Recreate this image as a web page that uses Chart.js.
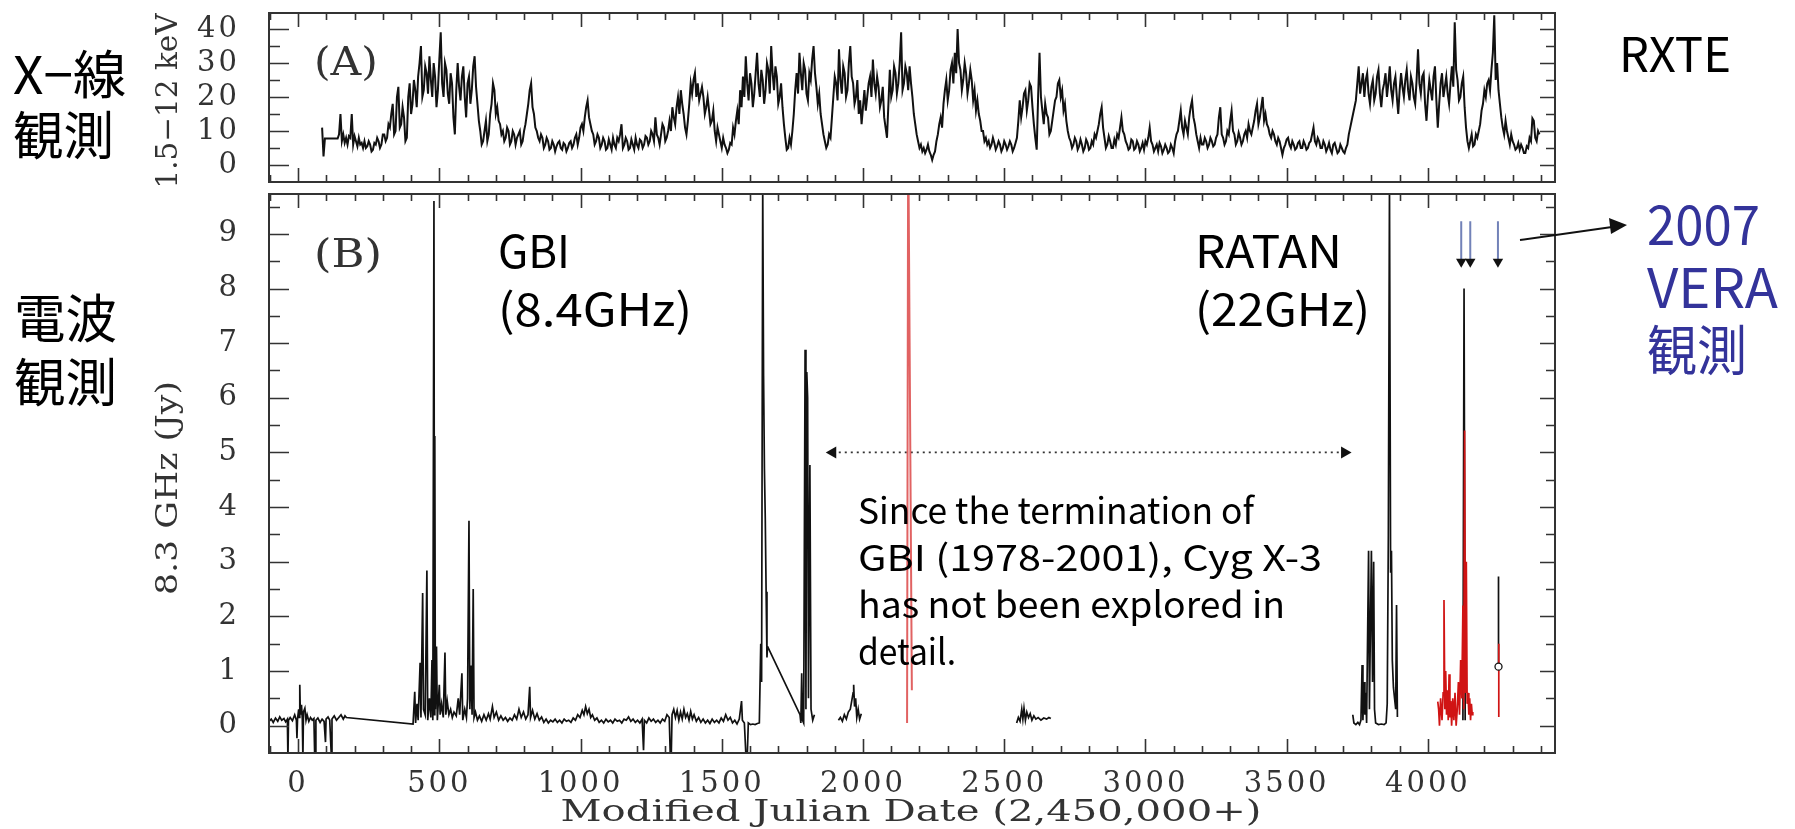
<!DOCTYPE html>
<html>
<head>
<meta charset="utf-8">
<title>Cyg X-3 light curves</title>
<script src="https://cdn.jsdelivr.net/npm/chart.js@4.4.1/dist/chart.umd.min.js"></script>
<style>
  html, body { margin: 0; padding: 0; background: #fff; }
  #wrap { position: relative; width: 1795px; height: 829px; overflow: hidden; background: #fff; }
  #wrap canvas { position: absolute; left: 0; }
  #xray { top: 0; }
  #radio { top: 184px; }
  #notes { position: absolute; left: 0; top: 0; pointer-events: none; }
  .jp { font-family: 'Noto Sans CJK JP', sans-serif; }
  .serif { font-family: 'DejaVu Serif', serif; fill: #333; }
</style>
</head>
<body>
<div id="wrap">
  <canvas id="xray" width="1795" height="186"></canvas>
  <canvas id="radio" width="1795" height="645"></canvas>
  <svg id="notes" width="1795" height="829">
    <!-- left side labels -->
    <text class="jp" x="13" y="94" font-size="52" textLength="113" lengthAdjust="spacingAndGlyphs">X−線</text>
    <text class="jp" x="13" y="155" font-size="52" textLength="101" lengthAdjust="spacingAndGlyphs">観測</text>
    <text class="jp" x="14" y="338" font-size="52" textLength="103" lengthAdjust="spacingAndGlyphs">電波</text>
    <text class="jp" x="14" y="402" font-size="52" textLength="103" lengthAdjust="spacingAndGlyphs">観測</text>

    <!-- axis titles -->
    <text class="serif" font-size="29" text-anchor="middle" textLength="175" lengthAdjust="spacingAndGlyphs" transform="translate(177,101) rotate(-90)">1.5−12 keV</text>
    <text class="serif" font-size="29" text-anchor="middle" textLength="214" lengthAdjust="spacingAndGlyphs" transform="translate(177,488) rotate(-90)">8.3 GHz (Jy)</text>
    <text class="serif" font-size="29" x="911" y="821" text-anchor="middle" textLength="701" lengthAdjust="spacingAndGlyphs">Modified Julian Date (2,450,000+)</text>

    <!-- panel tags -->
    <text class="serif" font-size="40" x="314" y="75" textLength="64" lengthAdjust="spacingAndGlyphs">(A)</text>
    <text class="serif" font-size="40" x="314" y="267" textLength="68" lengthAdjust="spacingAndGlyphs">(B)</text>

    <!-- instrument names -->
    <text class="jp" x="1619" y="72" font-size="48" textLength="112" lengthAdjust="spacingAndGlyphs">RXTE</text>
    <text class="jp" x="498" y="268" font-size="45" textLength="72" lengthAdjust="spacingAndGlyphs">GBI</text>
    <text class="jp" x="498" y="326" font-size="45" textLength="194" lengthAdjust="spacingAndGlyphs">(8.4GHz)</text>
    <text class="jp" x="1195" y="268" font-size="45" textLength="147" lengthAdjust="spacingAndGlyphs">RATAN</text>
    <text class="jp" x="1195" y="326" font-size="45" textLength="175" lengthAdjust="spacingAndGlyphs">(22GHz)</text>

    <!-- note -->
    <text class="jp" x="858" y="524" font-size="36" textLength="396" lengthAdjust="spacingAndGlyphs">Since the termination of</text>
    <text class="jp" x="858" y="571" font-size="36" textLength="464" lengthAdjust="spacingAndGlyphs">GBI (1978-2001), Cyg X-3</text>
    <text class="jp" x="858" y="618" font-size="36" textLength="427" lengthAdjust="spacingAndGlyphs">has not been explored in</text>
    <text class="jp" x="858" y="665" font-size="36" textLength="98" lengthAdjust="spacingAndGlyphs">detail.</text>

    <!-- VERA -->
    <text class="jp" x="1647" y="245" font-size="54" fill="#33339a" textLength="113" lengthAdjust="spacingAndGlyphs">2007</text>
    <text class="jp" x="1647" y="308" font-size="54" fill="#33339a" textLength="131" lengthAdjust="spacingAndGlyphs">VERA</text>
    <text class="jp" x="1647" y="371" font-size="54" fill="#33339a" textLength="100" lengthAdjust="spacingAndGlyphs">観測</text>
    <line x1="1520" y1="240" x2="1612" y2="227" stroke="#111" stroke-width="2"/>
    <polygon points="1627,225 1609,218 1611,234" fill="#111"/>
  </svg>
</div>

<script>
// RXTE/ASM 1.5-12 keV count rate, one value every 5 days from MJD 50085
const xrayStart = 85;
const xrayStep = 5;
const xrayFlux = [
  11, 2.5, 7.8, 7.8, 7.8, 7.8, 7.8, 7.8, 7.8, 7.8, 7.8, 7.8, 9, 15, 7, 9, 6.5, 8, 6, 8.5,
  8, 15, 6, 8.5, 7, 5.5, 8, 6, 6.5, 5, 7, 5, 5.5, 7, 6, 4, 4.5, 6.5, 6, 8,
  7, 5, 6, 9, 9, 7, 8, 12, 11, 15, 18, 9, 10, 20, 23, 11, 12, 17, 14, 7,
  8, 20, 24, 15, 18, 25, 22, 17, 26, 30, 35, 20, 22, 29, 27, 21, 32, 25, 20, 30,
  26, 17, 22, 31, 39, 24, 20, 30, 28, 21, 18, 27, 24, 14, 9, 22, 30, 23, 19, 26,
  29, 20, 14, 24, 26, 18, 22, 29, 32, 23, 18, 13, 10, 6, 7, 10, 13, 7, 9, 15,
  18, 24, 22, 15, 17, 13, 12, 9, 10, 7, 8, 11, 10, 6, 7, 10, 9, 6, 8, 9,
  10, 6, 7, 10, 12, 15, 18, 22, 24, 17, 15, 11, 10, 8, 7, 9, 8, 5, 6, 8,
  7, 4.5, 5, 7, 6, 4, 5.5, 6.5, 7, 5, 4.5, 6.5, 6, 4, 5, 6.5, 7, 5, 6, 8,
  9, 6, 8, 11, 12, 10, 14, 17, 19, 14, 12, 10, 9, 6, 7, 9, 8, 5, 6, 8,
  7, 4.5, 5, 7.5, 6, 4.5, 8, 6, 5, 8, 7, 9, 12, 5, 6, 8, 7, 4.5, 5, 7.5,
  6, 4.5, 8, 6, 5, 7.5, 7, 5, 6, 8.5, 8, 6, 7, 10, 9, 7, 14, 9, 8, 6,
  9, 12, 11, 7, 8, 10, 13, 10, 17, 14, 12, 17, 20, 15, 22, 18, 15, 11, 9, 13,
  18, 24, 21, 25, 27, 20, 24, 19, 21, 23, 20, 15, 17, 20, 16, 12, 13, 16, 10, 7,
  11, 9, 7, 5, 8, 6, 5, 3.5, 4.5, 6.5, 6, 11, 9, 13, 16, 12, 22, 17, 26, 20,
  32, 24, 19, 27, 24, 17, 21, 27, 33, 24, 20, 28, 25, 18, 22, 30, 28, 21, 35, 27,
  22, 29, 26, 18, 20, 24, 17, 12, 8, 4.5, 5, 8, 6, 10, 15, 22, 27, 21, 33, 27,
  22, 30, 28, 21, 19, 27, 25, 31, 35, 27, 23, 18, 21, 15, 12, 9, 7, 5, 6, 9,
  8, 14, 20, 26, 24, 19, 34, 25, 21, 29, 27, 20, 22, 30, 35, 26, 24, 18, 20, 25,
  15, 19, 12, 17, 22, 16, 20, 24, 26, 20, 31, 24, 21, 26, 23, 17, 19, 23, 14, 11,
  8, 18, 28, 20, 22, 29, 27, 21, 24, 30, 39, 22, 24, 29, 27, 22, 29, 24, 20, 15,
  12, 9, 7, 5, 6, 4, 5, 3.5, 4.5, 6, 4, 3, 1.5, 3, 4, 7, 9, 12, 14, 11,
  18, 22, 25, 19, 22, 28, 30, 24, 33, 27, 40, 30, 28, 22, 25, 30, 27, 21, 24, 28,
  25, 19, 22, 16, 19, 15, 13, 10, 10, 7, 8, 6, 7, 5, 6, 8, 6.5, 4.5, 5.5, 7,
  6, 4, 5, 7, 6, 4.5, 5.5, 7, 6, 4, 5, 6.5, 8, 13, 19, 14, 17, 21, 22, 16,
  19, 24, 23, 17, 12, 8, 4.5, 20, 33, 20, 16, 12, 18, 15, 14, 9, 10, 13, 16, 19,
  20, 24, 25, 20, 22, 16, 18, 13, 10, 8, 7, 5, 6, 8, 7, 4.5, 5.5, 7.5, 6, 4,
  5, 7.5, 6.5, 4.5, 5, 7, 6, 9, 8, 10, 12, 15, 17, 11, 8, 5, 6, 8.5, 7, 5,
  5, 7.5, 6, 9, 8, 11, 14, 10, 9, 7, 6, 4.5, 5, 7.5, 7, 4.5, 5, 7, 6, 4,
  5, 6.5, 4.5, 7, 6, 8, 11, 7, 6, 4, 5, 6, 4, 6.5, 5.5, 3.5, 4.5, 6, 5, 3.5,
  4, 6, 5, 3.5, 7, 9, 10, 13, 16, 11, 9, 13, 11, 9, 14, 17, 19, 14, 12, 9,
  7, 5, 8, 6, 6, 8, 7, 5, 6, 8, 7, 5.5, 6, 8, 9, 14, 17, 9, 8, 6,
  7, 10, 9, 13, 16, 10, 9, 6, 7, 9.5, 8, 6, 7, 9, 10, 8, 12, 10, 9, 11,
  13, 16, 18, 12, 14, 17, 20, 13, 15, 12, 11, 9, 8, 10, 9, 7, 6, 8, 7, 5,
  3, 5, 6, 7.5, 8, 6, 5, 7, 6, 4.5, 5, 6.5, 7, 5, 5, 7, 6, 4.5, 5, 6.5,
  7, 9, 11, 7, 6, 8, 7, 5, 5, 7, 6, 4, 5, 6.5, 4.5, 3.5, 6, 6.5, 5, 3.5,
  4, 6, 5, 4, 3.5, 5, 6, 9, 11, 13, 15, 17, 19, 24, 29, 21, 24, 27, 20, 25,
  27, 21, 18, 23, 25, 19, 21, 26, 28, 21, 17, 22, 24, 27, 20, 24, 29, 22, 19, 24,
  26, 20, 15, 22, 27, 23, 20, 25, 28, 22, 19, 26, 24, 20, 18, 25, 34, 24, 21, 26,
  27, 18, 13, 20, 25, 22, 19, 26, 29, 19, 11, 18, 24, 27, 20, 23, 26, 21, 18, 24,
  29, 23, 42, 28, 25, 19, 20, 24, 26, 17, 11, 7, 5, 7, 9, 5.5, 6, 9, 8, 10,
  12, 16, 18, 22, 20, 24, 25, 22, 28, 33, 44, 25, 30, 22, 18, 14, 11, 9, 13, 10,
  8, 6, 9, 7, 6, 4.5, 5, 6.5, 4.5, 6, 5, 3.5, 3.5, 5.5, 5, 8, 7, 13.7, 13, 8,
  7, 10, 9
];

// GBI 8.3 GHz flux, [MJD, Jy]; first run is continuous (gaps bridged by straight lines)
const gbiRunA = [
  [-103,0.08],[-95,0.12],[-88,0.06],[-80,0.14],[-72,0.08],[-65,0.16],[-58,0.1],[-50,0.13],[-44,0.07],[-38,0.12],
  [-36,-0.6],[-34,0.1],[-28,0.15],[-20,0.09],[-12,0.2],[-6,0.1],[-4,-0.23],[-2,0.12],[2,0.3],[4,0.15],
  [6,0.75],[8,0.2],[12,0.38],[15,0.12],[17,-0.6],[19,0.25],[24,0.32],[28,0.1],[32,0.2],[38,0.08],
  [44,0.15],[50,0.1],[56,0.13],[59,-0.6],[61,-0.6],[63,0.1],[70,0.14],[78,0.06],[85,0.12],[92,0.08],
  [97,-0.3],[99,0.12],[106,0.16],[112,0.1],[118,-0.6],[120,0.12],[128,0.18],[136,0.1],[144,0.15],[152,0.2],
  [160,0.12],[166,0.18],[171,0.15],
  [407,0.03],[413,0.62],[416,0.05],[421,0.4],[425,0.1],[432,1.15],[435,0.15],[441,2.43],[444,0.3],[450,0.2],
  [456,2.84],[459,0.1],[465,0.5],[470,0.15],[474,1.2],[477,0.1],[481,9.6],[483,0.2],[484,5.3],[486,0.3],
  [490,1.45],[493,0.1],[500,0.75],[503,0.2],[508,0.4],[514,0.15],[520,1.34],[523,0.2],[528,0.45],[534,0.2],
  [540,0.3],[546,0.15],[552,0.25],[560,0.18],[567,0.5],[572,0.2],[580,0.96],[583,0.1],[590,0.3],[596,0.15],
  [600,0.5],[605,3.75],[608,0.3],[612,1.1],[616,0.2],[620,2.5],[623,0.15],[628,0.25],[635,0.1],[642,0.18],
  [650,0.08],[658,0.2],[666,0.1],[674,0.22],[680,0.12],[688,0.35],[694,0.15],[702,0.25],[710,0.1],[718,0.18],
  [726,0.1],[734,0.15],[742,0.08],[750,0.14],[758,0.1],[766,0.2],[774,0.12],[782,0.3],[790,0.15],[798,0.25],
  [806,0.12],[814,0.2],[820,0.71],[823,0.15],[830,0.28],[838,0.12],[846,0.22],[854,0.1],[862,0.16],[870,0.06],
  [878,0.12],[886,0.05],[894,0.1],[902,0.07],[910,0.12],[918,0.06],[926,0.1],[934,0.05],[942,0.12],[950,0.08],
  [958,0.1],[966,0.06],[974,0.14],[982,0.1],[990,0.2],[998,0.15],[1006,0.28],[1012,0.2],[1018,0.35],[1024,0.22],
  [1030,0.3],[1036,0.15],[1042,0.2],[1050,0.1],[1058,0.14],[1066,0.06],[1074,0.1],[1082,0.05],[1090,0.12],[1098,0.07],
  [1106,0.1],[1114,0.05],[1122,0.12],[1130,0.08],[1138,0.1],[1146,0.05],[1154,0.12],[1162,0.1],[1170,0.16],[1178,0.08],
  [1186,0.12],[1194,0.06],[1202,0.1],[1210,0.05],[1218,0.12],[1223,-0.45],[1226,0.1],[1234,0.05],[1242,0.14],[1250,0.08],
  [1258,0.12],[1266,0.06],[1274,0.1],[1282,0.05],[1290,0.12],[1298,0.08],[1306,0.2],[1314,0.15],[1318,-0.6],[1321,-0.6],
  [1324,0.2],[1330,0.3],[1336,0.15],[1342,0.28],[1348,0.1],[1354,0.25],[1360,0.12],[1366,0.3],[1372,0.15],[1378,0.22],
  [1384,0.1],[1390,0.26],[1396,0.12],[1402,0.2],[1410,0.08],[1418,0.15],[1426,0.06],[1434,0.12],[1442,0.05],[1450,0.1],
  [1458,0.04],[1466,0.12],[1474,0.06],[1482,0.1],[1490,0.05],[1498,0.14],[1506,0.08],[1514,0.2],[1522,0.1],[1530,0.15],
  [1538,0.05],[1546,0.1],[1554,0.03],[1562,0.12],[1570,0.45],[1573,0.1],[1580,0.05],[1586,-0.6],[1590,-0.6],[1594,0.05],
  [1602,0.02],[1610,0.03],[1618,0.02],[1626,0.04],[1633,0.05],[1638,1.5],[1641,0.8],[1645,9.9],[1648,6.4],[1651,4.7],
  [1654,3.8],[1657,2.45],[1660,1.25],[1662,1.45],
  [1777,0.2],[1780,0.05],[1783,0.96],[1786,0.1],[1790,0.05],[1795,6.88],[1798,0.3],[1801,6.47],[1804,6.0],[1807,0.5],
  [1812,4.77],[1816,0.3],[1822,0.1],[1828,0.2]
];
const gbiRunB = [
  [1913,0.1],[1920,0.15],[1927,0.08],[1934,0.2],[1941,0.12],[1948,0.25],[1955,0.3],[1960,0.45],[1965,0.6],[1967,0.75],
  [1970,0.35],[1974,0.5],[1978,0.15],[1983,0.3],[1988,0.12],[1994,0.22]
];
const gbiRunC = [
  [2544,0.05],[2550,0.15],[2556,0.08],[2562,0.3],[2566,0.12],[2570,0.32],[2575,0.1],[2580,0.25],[2586,0.15],[2592,0.22],
  [2598,0.1],[2605,0.18],[2612,0.12],[2620,0.15],[2630,0.1],[2640,0.14],[2650,0.12],[2658,0.15],[2665,0.13]
];
// RATAN 22 GHz
const ratanBlack = [
  [3734,0.2],[3738,0.05],[3745,0.02],[3752,0.06],[3758,0.02],[3763,0.1],[3767,1.11],[3770,0.1],[3774,0.8],[3777,0.2],
  [3780,0.6],[3783,0.05],[3790,3.2],[3793,0.3],[3797,2.0],[3800,3.2],[3804,0.8],[3808,3.0],[3811,0.3],[3815,0.05],
  [3825,0.02],[3835,0.03],[3845,0.02],[3852,0.05],[3856,0.4],[3860,3.5],[3864,9.9],[3868,2.8],[3871,3.2],[3874,1.2],
  [3878,0.7],[3882,0.5],[3886,0.3],[3889,2.21],[3892,0.16]
];
const ratanFlare2001 = [[2156,0.05],[2160,11],[2173,0.65]];
const ratanRed2007 = [
  [4035,0.44],[4038,0.3],[4041,0.0],[4045,0.5],[4050,0.1],[4054,0.6],[4057,2.3],[4060,0.3],[4063,1.0],[4066,0.2],
  [4069,0.65],[4072,0.1],[4075,0.94],[4078,0.15],[4081,0.45],[4084,0.0],[4088,0.5],[4092,0.1],[4096,0.6],[4100,0.0],
  [4104,0.3],[4108,0.8],[4112,0.2],[4116,1.2],[4120,0.5],[4124,2.2],[4127,0.3],[4130,5.4],[4133,0.6],[4136,3.0],
  [4139,0.4],[4142,0.6],[4145,0.2],[4148,0.5],[4151,0.1],[4154,0.4],[4157,0.2],[4159,0.25]
];
const ratanBlack2007 = [[4124,0.1],[4128,8.0],[4132,0.1]];
// single point with error bar near MJD 54250
const errUpper = [[4250,2.73],[4250,1.08]];
const errLower = [[4251,1.5],[4251,0.16]];
const errPoint = [[4250,1.08]];
// VERA 2007 epochs (arrows) and the GBI-gap marker
const veraEpochs = [4118, 4150, 4248];
const veraArrowTop = 9.23;
const veraArrowTip = 8.49;
const gapArrow = [[1893,5],[3705,5]];

// tick steps
const xLabelStep = 500;
const xMinorStep = 100;
const xrayMajor = 10, xrayMinor = 5;
const radioMajor = 1, radioMinor = 0.5;

const INK = '#111';
const AXIS = '#333';
const RED = '#d01414';

// inward ticks on all four sides plus the frame
const frameTicks = {
  id: 'frameTicks',
  beforeDraw(chart) {
    chart.ctx.letterSpacing = '3px';
  },
  afterDatasetsDraw(chart, args, opts) {
    const { ctx, chartArea: a, scales: { x, y } } = chart;
    ctx.save();
    ctx.strokeStyle = AXIS;
    ctx.lineWidth = 1.6;
    ctx.beginPath();
    x.ticks.forEach(t => {
      const px = Math.round(x.getPixelForValue(t.value)) + 0.5;
      if (px <= a.left + 1 || px >= a.right - 1) return;
      const len = t.value % xLabelStep === 0 ? 14 : 7;
      ctx.moveTo(px, a.top); ctx.lineTo(px, a.top + len);
      ctx.moveTo(px, a.bottom); ctx.lineTo(px, a.bottom - len);
    });
    y.ticks.forEach(t => {
      const py = Math.round(y.getPixelForValue(t.value)) + 0.5;
      if (py <= a.top + 1 || py >= a.bottom - 1) return;
      const major = Math.abs(t.value / opts.major - Math.round(t.value / opts.major)) < 1e-6;
      const l = major ? 20 : 11;
      const r = major ? 15 : 9;
      ctx.moveTo(a.left, py); ctx.lineTo(a.left + l, py);
      ctx.moveTo(a.right, py); ctx.lineTo(a.right - r, py);
    });
    ctx.stroke();
    ctx.lineWidth = 2;
    ctx.strokeRect(a.left, a.top, a.right - a.left, a.bottom - a.top);
    ctx.restore();
  }
};

function line(data, color, width, extra) {
  return Object.assign({
    data: data,
    borderColor: color,
    borderWidth: width,
    pointRadius: 0,
    tension: 0,
    fill: false,
    clip: 0
  }, extra || {});
}

const xOpts = (showLabels) => ({
  type: 'linear',
  min: -103,
  max: 4450,
  grid: { display: false },
  border: { display: false },
  ticks: {
    display: showLabels,
    stepSize: xMinorStep,
    includeBounds: false,
    autoSkip: false,
    maxRotation: 0,
    padding: 6,
    color: AXIS,
    font: { family: 'DejaVu Serif', size: 29 },
    callback: v => (v % xLabelStep === 0 && v >= 0) ? String(v) : ''
  },
  afterFit: s => {
    s.height = showLabels ? 76 : 0;
    s.paddingLeft = 0; s.paddingRight = 0;
  }
});

const yOpts = (min, max, minor, isLabel) => ({
  min: min,
  max: max,
  grid: { display: false },
  border: { display: false },
  ticks: {
    stepSize: minor,
    includeBounds: false,
    autoSkip: false,
    padding: 21,
    color: AXIS,
    font: { family: 'DejaVu Serif', size: 29 },
    callback: v => isLabel(v) ? String(v) : ''
  },
  afterFit: s => {
    s.width = 269;
    s.paddingTop = 0; s.paddingBottom = 0;
  }
});

Chart.defaults.animation = false;
Chart.defaults.font.family = 'DejaVu Serif';

// (A) X-ray panel
new Chart(document.getElementById('xray'), {
  type: 'line',
  data: {
    datasets: [
      line(xrayFlux.map((v, i) => ({ x: xrayStart + i * xrayStep, y: v })), INK, 2)
    ]
  },
  options: {
    responsive: false,
    events: [],
    layout: { autoPadding: false, padding: { top: 13, right: 240, bottom: 4, left: 0 } },
    plugins: { legend: { display: false }, tooltip: { enabled: false }, frameTicks: { major: xrayMajor } },
    scales: {
      x: xOpts(false),
      y: yOpts(-5, 44.7, xrayMinor, v => Math.abs(v % xrayMajor) < 1e-6 && v >= 0)
    }
  },
  plugins: [frameTicks]
});

// (B) radio panel
const radioSets = [
  line(errPoint, INK, 1.2, { showLine: false, pointRadius: 3.5, pointBackgroundColor: '#fff', pointBorderColor: INK, pointBorderWidth: 1.3, order: 0 }),
  line(errLower, RED, 1.7, { order: 1 }),
  line(errUpper, INK, 1.7, { order: 2 }),
  line(ratanRed2007, RED, 1.7, { order: 3 }),
  line(ratanBlack2007, INK, 1.7, { order: 4 }),
  line(ratanFlare2001, 'rgba(220,70,70,0.85)', 2, { order: 5 }),
  line(ratanBlack, INK, 1.7, { order: 6 }),
  line(gbiRunA, INK, 1.7, { order: 7 }),
  line(gbiRunB, INK, 1.7, { order: 8 }),
  line(gbiRunC, INK, 1.7, { order: 9 }),
  line(gapArrow, '#333', 1.8, {
    order: 10, borderDash: [2, 4], pointStyle: 'triangle', pointRadius: 7,
    pointRotation: [-90, 90], pointBackgroundColor: '#111', pointBorderWidth: 0
  })
];
veraEpochs.forEach((d, i) => {
  radioSets.push(line([[d, veraArrowTop], [d, veraArrowTip]], '#7282b8', 2, {
    order: 11 + i, pointStyle: 'triangle', pointRadius: [0, 6], pointRotation: 180,
    pointBackgroundColor: '#111', pointBorderColor: '#111', pointBorderWidth: 0
  }));
});

new Chart(document.getElementById('radio'), {
  type: 'line',
  data: { datasets: radioSets },
  options: {
    responsive: false,
    events: [],
    layout: { autoPadding: false, padding: { top: 10, right: 240, bottom: 0, left: 0 } },
    plugins: { legend: { display: false }, tooltip: { enabled: false }, frameTicks: { major: radioMajor } },
    scales: {
      x: xOpts(true),
      y: yOpts(-0.5, 9.73, radioMinor, v => Number.isInteger(Math.round(v * 1000) / 1000) && v >= 0)
    }
  },
  plugins: [frameTicks]
});
</script>
</body>
</html>
